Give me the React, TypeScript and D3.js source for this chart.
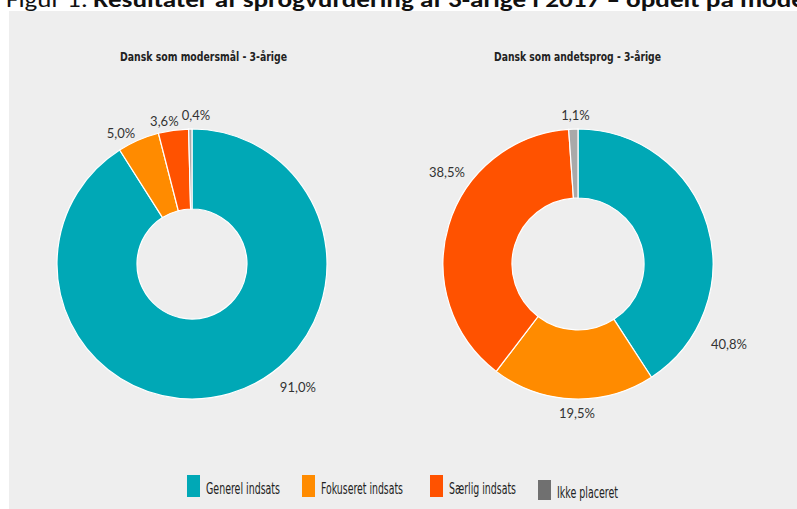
import React from "react";
import * as d3 from "d3";

const categories = ["Generel indsats", "Fokuseret indsats", "Særlig indsats", "Ikke placeret"];
const modersmaalValues = [91.0, 5.0, 3.6, 0.4];
const andetsprogValues = [40.8, 19.5, 38.5, 1.1];
const chartTitles = ["Dansk som modersmål - 3-årige", "Dansk som andetsprog - 3-årige"];
const figureTitleRegular = "Figur 1:";
const figureTitleBold = "Resultater af sprogvurdering af 3-årige i 2017 – opdelt på mode";

const sliceColors = ["#00a8b6", "#ff8b00", "#ff5200", "#a9a9a9"];
const legendColors = ["#00a8b6", "#ff8b00", "#ff5200", "#707070"];

// label placement (angle in degrees clockwise from top, radius in px)
const leftLabelLayout = [
  { a: 139.5, r: 163 },
  { a: 331.5, r: 149 },
  { a: 349, r: 145 },
  { a: 1.5, r: 149 },
];
const rightLabelLayout = [
  { a: 118, r: 171 },
  { a: 180.4, r: 149 },
  { a: 305, r: 160 },
  { a: 359, r: 149 },
];

const fmt = (v: number) => v.toFixed(1).replace(".", ",") + "%";

function Donut({ values, cx, cy, outer, inner, title, titleWidth, titleX, labels }: any) {
  const pie = d3.pie<number>().sort(null).value((d) => d);
  const arcs = pie(values);
  const arcGen = d3.arc<d3.PieArcDatum<number>>().innerRadius(inner).outerRadius(outer);
  return (
    <g>
      <text
        x={titleX}
        y={61}
        textAnchor="middle"
        fontFamily="'Liberation Sans Narrow', 'DejaVu Sans Condensed', sans-serif"
        fontWeight="bold"
        fontSize={13}
        fill="#222"
        textLength={titleWidth}
        lengthAdjust="spacingAndGlyphs"
      >
        {title}
      </text>
      <g transform={`translate(${cx},${cy})`}>
        {arcs.map((a, i) => (
          <path key={i} d={arcGen(a) || ""} fill={sliceColors[i]} stroke="#ffffff" strokeWidth={1.2} />
        ))}
        {arcs.map((a, i) => {
          const ang = (labels[i].a * Math.PI) / 180;
          const pos = d3
            .arc<any>()
            .innerRadius(labels[i].r)
            .outerRadius(labels[i].r)
            .centroid({ startAngle: ang, endAngle: ang } as any);
          return (
            <text
              key={"l" + i}
              x={pos[0]}
              y={pos[1]}
              dy="0.35em"
              textAnchor="middle"
              fontFamily="Lato, 'Open Sans', sans-serif"
              fontSize={13}
              fill="#333"
            >
              {fmt(values[i])}
            </text>
          );
        })}
      </g>
    </g>
  );
}

export default function App() {
  const legendX = [187, 302, 430, 538];
  const legendTextW = [74, 82, 67, 61];
  return (
    <div style={{ position: "fixed", left: 0, top: 0 }}>
      <svg width={797} height={509} style={{ display: "block", background: "#ffffff" }}>
        <rect x={9} y={11} width={788} height={498} fill="#eeeeee" />
        <text
          x={6}
          y={7}
          fontFamily="Carlito, Lato, 'Open Sans', sans-serif"
          fontSize={23}
          fill="#111"
          textLength={82}
          lengthAdjust="spacingAndGlyphs"
        >
          {figureTitleRegular}
        </text>
        <text
          x={93}
          y={7}
          fontFamily="Carlito, Lato, 'Open Sans', sans-serif"
          fontWeight="bold"
          fontSize={23}
          fill="#111"
          textLength={712}
          lengthAdjust="spacingAndGlyphs"
        >
          {figureTitleBold}
        </text>
        <Donut
          values={modersmaalValues}
          cx={192}
          cy={264}
          outer={135}
          inner={55}
          title={chartTitles[0]}
          titleX={203.5}
          titleWidth={167}
          labels={leftLabelLayout}
        />
        <Donut
          values={andetsprogValues}
          cx={578}
          cy={264}
          outer={135}
          inner={66}
          title={chartTitles[1]}
          titleX={577.5}
          titleWidth={167}
          labels={rightLabelLayout}
        />
        {categories.map((c, i) => (
          <g key={c}>
            <rect
              x={legendX[i]}
              y={i === 3 ? 480 : 475}
              width={13}
              height={i === 3 ? 20 : 22}
              fill={legendColors[i]}
            />
            <text
              x={legendX[i] + 19}
              y={i === 3 ? 498 : 494}
              fontFamily="'Liberation Sans Narrow', 'DejaVu Sans Condensed', sans-serif"
              fontSize={16.5}
              fill="#222"
              textLength={legendTextW[i]}
              lengthAdjust="spacingAndGlyphs"
            >
              {c}
            </text>
          </g>
        ))}
      </svg>
    </div>
  );
}
